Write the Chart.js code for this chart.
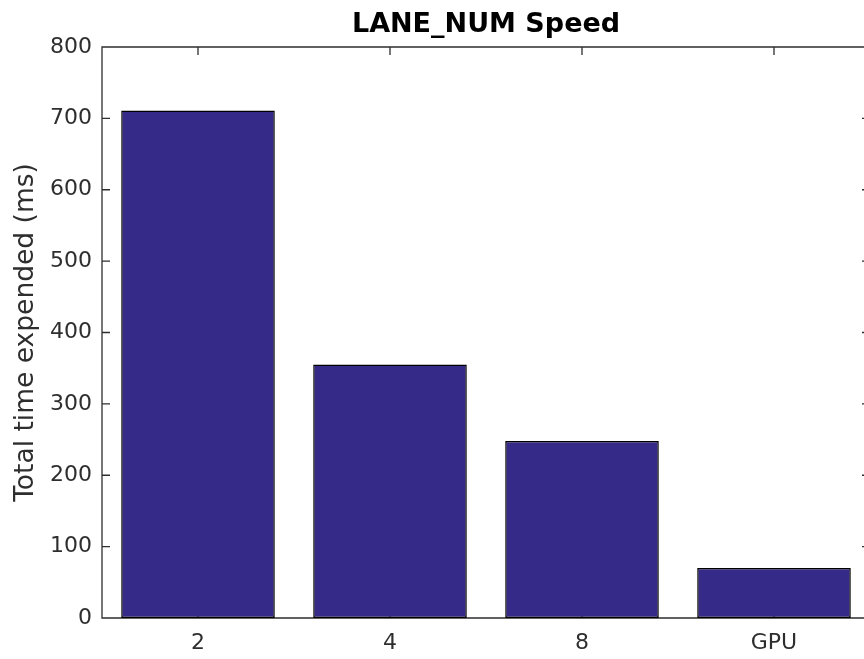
<!DOCTYPE html>
<html>
<head>
<meta charset="utf-8">
<script src="https://cdn.jsdelivr.net/npm/chart.js@4"></script>
<style>
  html, body { margin: 0; padding: 0; background: #fff; overflow: hidden; }
  #wrap { width: 880px; height: 659px; }
</style>
</head>
<body>
<div id="wrap"><canvas id="c" width="880" height="659"></canvas></div>
<script>
// LANE_NUM speed, MATLAB-style bar chart
const categories = ["2", "4", "8", "GPU"];
const timeMs = [711, 355, 248, 70];
const yTicks = [0, 100, 200, 300, 400, 500, 600, 700, 800];

const axisColor = "#2e2e2e";
const font = "'DejaVu Sans', sans-serif";

// box around the axes + inward tick marks (top/right mirror the left/bottom)
const matlabBox = {
  id: "matlabBox",
  beforeDatasetsDraw(chart) {
    const { ctx, chartArea: a, scales: { x, y } } = chart;
    const len = 8;
    ctx.save();
    ctx.strokeStyle = axisColor;
    ctx.lineWidth = 1.3;
    ctx.beginPath();
    ctx.rect(a.left, a.top, a.right - a.left, a.bottom - a.top);
    yTicks.forEach((v) => {
      const py = y.getPixelForValue(v);
      ctx.moveTo(a.left, py); ctx.lineTo(a.left + len, py);
      ctx.moveTo(a.right, py); ctx.lineTo(a.right - len, py);
    });
    categories.forEach((_, i) => {
      const px = x.getPixelForValue(i);
      ctx.moveTo(px, a.top); ctx.lineTo(px, a.top + len);
      ctx.moveTo(px, a.bottom); ctx.lineTo(px, a.bottom - len);
    });
    ctx.stroke();
    ctx.restore();
  },
};

new Chart(document.getElementById("c"), {
  type: "bar",
  data: {
    labels: categories,
    datasets: [{
      data: timeMs,
      backgroundColor: "#352a87",
      borderColor: "#000",
      borderWidth: 1.5,
      borderSkipped: false,
      categoryPercentage: 1,
      barPercentage: 0.8,
    }],
  },
  options: {
    responsive: false,
    animation: false,
    devicePixelRatio: 1,
    layout: { padding: { left: 0, right: 10, top: 0, bottom: 0 } },
    plugins: {
      legend: { display: false },
      tooltip: { enabled: false },
    },
    scales: {
      x: {
        grid: { display: false, drawTicks: false },
        border: { display: false },
        ticks: { color: axisColor, font: { family: font, size: 22 }, padding: 12 },
        afterFit: (s) => { s.height = 41; },
      },
      // top axis only carries the title so it centres over the plot box
      top: {
        type: "category", position: "top",
        grid: { display: false, drawTicks: false },
        border: { display: false },
        ticks: { display: false },
        title: {
          display: true, text: "LANE_NUM Speed", color: "#000",
          font: { family: font, size: 27, weight: "bold" },
          padding: { top: 9, bottom: 0 },
        },
        afterFit: (s) => { s.height = 47; },
      },
      y: {
        min: 0, max: 800,
        afterBuildTicks: (s) => { s.ticks = yTicks.map((v) => ({ value: v })); },
        grid: { display: false, drawTicks: false },
        border: { display: false },
        ticks: { color: axisColor, font: { family: font, size: 22 }, padding: 10 },
        title: {
          display: true, text: "Total time expended (ms)", color: axisColor,
          font: { family: font, size: 26.5 }, padding: { top: 10, bottom: 0 },
        },
        afterFit: (s) => { s.width = 102; },
      },
    },
  },
  plugins: [matlabBox],
});
</script>
</body>
</html>
